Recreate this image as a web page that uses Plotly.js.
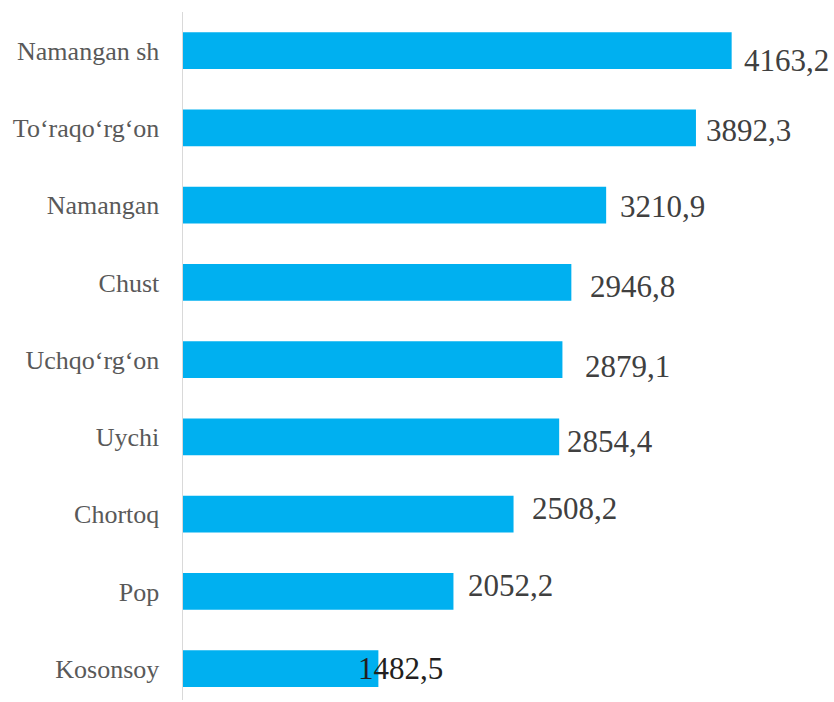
<!DOCTYPE html>
<html>
<head>
<meta charset="utf-8">
<script src="https://cdn.plot.ly/plotly-3.0.1.min.js"></script>
<style>html,body{margin:0;padding:0;background:#fff;}</style>
</head>
<body>
<div id="chart" style="width:834px;height:702px;"></div>
<script>
// Data
const categories = ["Namangan sh", "To\u2018raqo\u2018rg\u2018on", "Namangan", "Chust", "Uchqo\u2018rg\u2018on", "Uychi", "Chortoq", "Pop", "Kosonsoy"];
const values = [4163.2, 3892.3, 3210.9, 2946.8, 2879.1, 2854.4, 2508.2, 2052.2, 1482.5];
const valueLabels = ["4163,2", "3892,3", "3210,9", "2946,8", "2879,1", "2854,4", "2508,2", "2052,2", "1482,5"];

// Label placement (pixel offsets from bar end) and colors - style only
const labelDx = [10, 8, 12, 17, 21, 6, 16, 13, -22];
const labelDy = [-10, -3, -1, -4, -7, -5, 6, 6, 0];
const labelColors = ["#404040","#404040","#404040","#404040","#404040","#404040","#404040","#404040","#231f20"];

const serif = '"Liberation Serif", "Times New Roman", serif';

const trace = {
  type: "bar",
  orientation: "h",
  y: categories,
  x: values,
  marker: {color: "#00B0F0"},
  hoverinfo: "skip"
};

const annotations = values.map((v, i) => ({
  x: v,
  y: categories[i],
  xref: "x",
  yref: "y",
  text: valueLabels[i],
  showarrow: false,
  xanchor: "left",
  yanchor: "middle",
  xshift: labelDx[i],
  yshift: labelDy[i],
  font: {family: serif, size: 31, color: labelColors[i]}
}));

const layout = {
  width: 834,
  height: 702,
  margin: {l: 183, r: 20, t: 12, b: 2, pad: 0},
  paper_bgcolor: "#ffffff",
  plot_bgcolor: "#ffffff",
  showlegend: false,
  bargap: 0.525,
  font: {family: serif},
  xaxis: {
    range: [0, 4788],
    visible: false,
    showgrid: false,
    zeroline: false,
    fixedrange: true
  },
  yaxis: {
    type: "category",
    range: [8.405, -0.5],
    showline: true,
    linecolor: "#d9d9d9",
    linewidth: 1.5,
    showgrid: false,
    zeroline: false,
    ticks: "",
    ticklabelstandoff: 17,
    tickfont: {family: serif, size: 26, color: "#595959"},
    fixedrange: true
  },
  annotations: annotations
};

Plotly.newPlot("chart", [trace], layout, {displayModeBar: false, staticPlot: true});
</script>
</body>
</html>
